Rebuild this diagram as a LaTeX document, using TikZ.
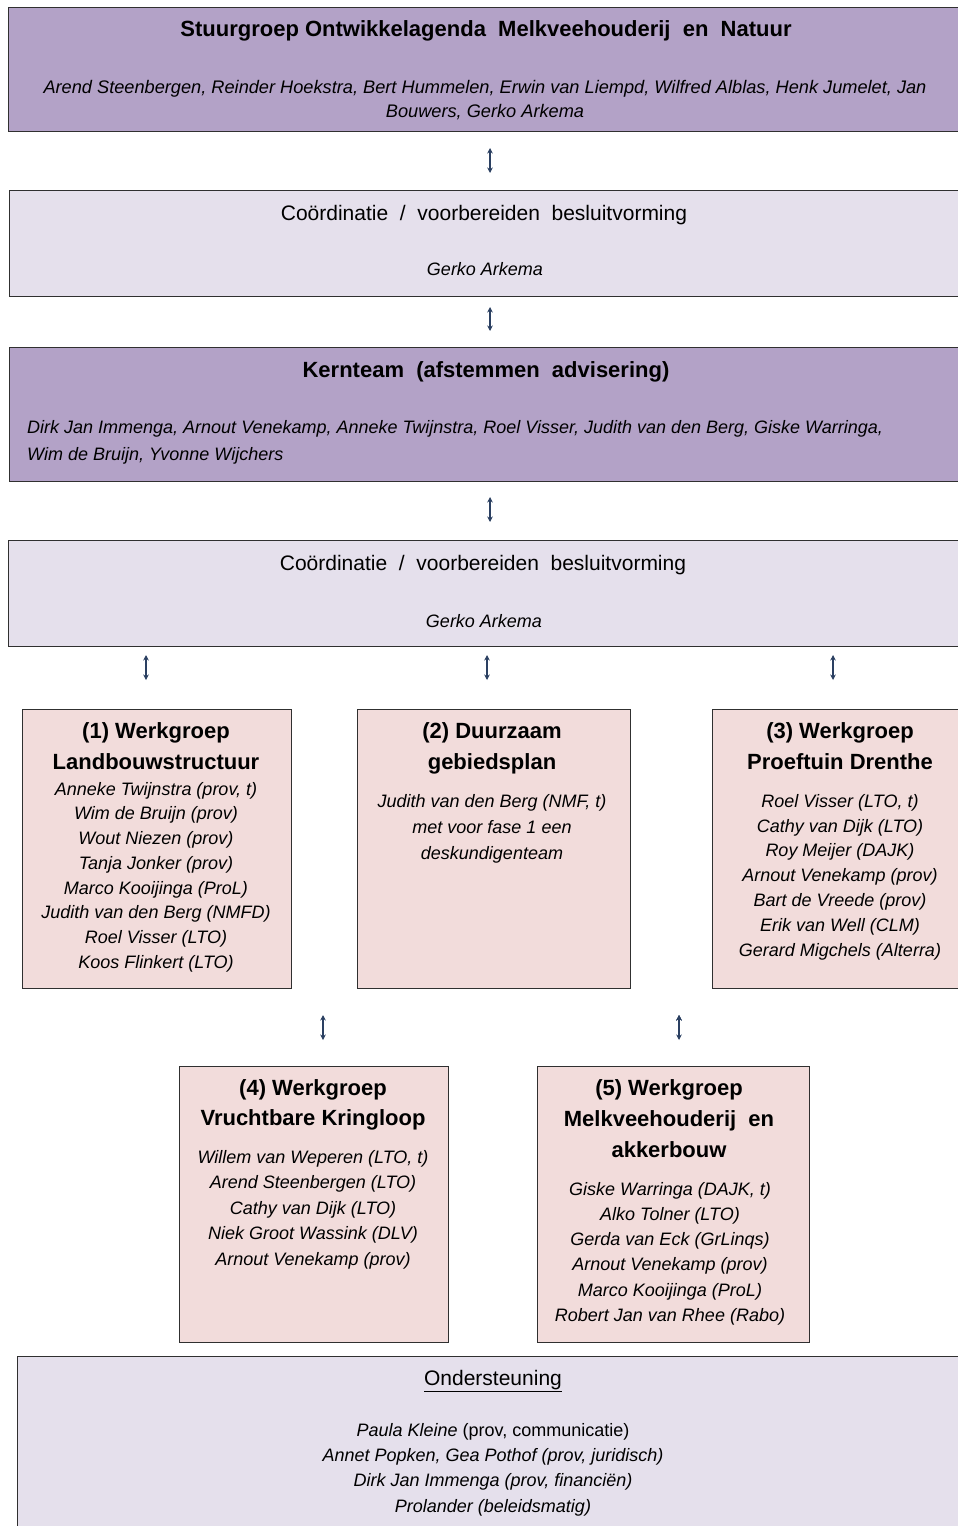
\documentclass[tikz,border=0pt]{standalone}
\usepackage{fontspec}
\setmainfont{Liberation Sans}
\usetikzlibrary{arrows.meta,positioning}

\definecolor{stuurpaars}{HTML}{B3A2C7}
\definecolor{coordlila}{HTML}{E5E0EC}
\definecolor{werkroze}{HTML}{F2DCDB}
\definecolor{randgrijs}{HTML}{303030}
\definecolor{pijlblauw}{HTML}{2B4062}

\tikzset{
  box/.style={draw=randgrijs, line width=1.4pt, anchor=north west, inner sep=0pt},
  paars/.style={box, fill=stuurpaars},
  lila/.style={box, fill=coordlila},
  roze/.style={box, fill=werkroze},
  kop/.style={font=\fontsize{22}{31}\selectfont\bfseries, align=center, inner sep=0pt, anchor=north},
  gewoon/.style={font=\fontsize{21}{25}\selectfont, align=center, inner sep=0pt, anchor=north},
  namen/.style={font=\fontsize{18}{24.7}\selectfont\itshape, align=center, inner sep=0pt, anchor=north},
  pijl/.style={{Stealth[length=5.5pt,width=5.5pt]}-{Stealth[length=5.5pt,width=5.5pt]}, line width=1.2pt, draw=pijlblauw}
}

\begin{document}
\begin{tikzpicture}[x=1pt, y=-1pt]
  \useasboundingbox (0,0) rectangle (958,1526);
  \clip (0,0) rectangle (958,1526);

  % stuurgroep en coordinatie
  \node[paars, minimum width=1000pt, minimum height=124pt] (stuur) at (8,7) {};
  \node[kop] (stuurkop) at (486,20) {Stuurgroep Ontwikkelagenda~~Melkveehouderij~~en~~Natuur};
  \node[namen, font=\fontsize{18.2}{24}\selectfont\itshape] (stuurnamen) at (485,80)
    {Arend Steenbergen, Reinder Hoekstra, Bert Hummelen, Erwin van Liempd, Wilfred Alblas, Henk Jumelet, Jan\\
     Bouwers, Gerko Arkema};

  \node[lila, minimum width=1000pt, minimum height=106pt] (coord1) at (9,190) {};
  \node[gewoon] (coord1kop) at (484,205) {Coördinatie~~/~~voorbereiden~~besluitvorming};
  \node[namen] (coord1naam) at (485,262) {Gerko Arkema};

  % kernteam
  \node[paars, minimum width=1000pt, minimum height=134pt] (kern) at (9,347) {};
  \node[kop] (kernkop) at (486,361) {Kernteam~~(afstemmen~~advisering)};
  \node[namen, align=left, anchor=north west, font=\fontsize{18}{27}\selectfont\itshape] (kernnamen) at (27,420)
    {Dirk Jan Immenga, Arnout Venekamp, Anneke Twijnstra, Roel Visser, Judith van den Berg, Giske Warringa,\\
     Wim de Bruijn, Yvonne Wijchers};

  \node[lila, minimum width=1000pt, minimum height=106pt] (coord2) at (8,540) {};
  \node[gewoon] (coord2kop) at (483,555) {Coördinatie~~/~~voorbereiden~~besluitvorming};
  \node[namen] (coord2naam) at (484,614) {Gerko Arkema};

  % werkgroepen 1-3
  \node[roze, minimum width=269pt, minimum height=279pt] (wg1) at (22,709) {};
  \node[kop] (wg1kop) at (156,722) {(1) Werkgroep\\Landbouwstructuur};
  \node[namen] (wg1namen) at (156,782)
    {Anneke Twijnstra (prov, t)\\Wim de Bruijn (prov)\\Wout Niezen (prov)\\Tanja Jonker (prov)\\
     Marco Kooijinga (ProL)\\Judith van den Berg (NMFD)\\Roel Visser (LTO)\\Koos Flinkert (LTO)};

  \node[roze, minimum width=273pt, minimum height=279pt] (wg2) at (357,709) {};
  \node[kop] (wg2kop) at (492,722) {(2) Duurzaam\\gebiedsplan};
  \node[namen, font=\fontsize{18}{26}\selectfont\itshape] (wg2namen) at (492,794)
    {Judith van den Berg (NMF, t)\\met voor fase 1 een\\deskundigenteam};

  \node[roze, minimum width=300pt, minimum height=279pt] (wg3) at (712,709) {};
  \node[kop] (wg3kop) at (840,722) {(3) Werkgroep\\Proeftuin Drenthe};
  \node[namen, font=\fontsize{18}{24.8}\selectfont\itshape] (wg3namen) at (840,794)
    {Roel Visser (LTO, t)\\Cathy van Dijk (LTO)\\Roy Meijer (DAJK)\\Arnout Venekamp (prov)\\
     Bart de Vreede (prov)\\Erik van Well (CLM)\\Gerard Migchels (Alterra)};

  % werkgroepen 4-5
  \node[roze, minimum width=269pt, minimum height=276pt] (wg4) at (179,1066) {};
  \node[kop, font=\fontsize{22}{30}\selectfont\bfseries] (wg4kop) at (313,1079) {(4) Werkgroep\\Vruchtbare Kringloop};
  \node[namen, font=\fontsize{18}{25.5}\selectfont\itshape] (wg4namen) at (313,1150)
    {Willem van Weperen (LTO, t)\\Arend Steenbergen (LTO)\\Cathy van Dijk (LTO)\\
     Niek Groot Wassink (DLV)\\Arnout Venekamp (prov)};

  \node[roze, minimum width=272pt, minimum height=276pt] (wg5) at (537,1066) {};
  \node[kop] (wg5kop) at (669,1079) {(5) Werkgroep\\Melkveehouderij~~en\\akkerbouw};
  \node[namen, font=\fontsize{18}{25.2}\selectfont\itshape] (wg5namen) at (670,1182)
    {Giske Warringa (DAJK, t)\\Alko Tolner (LTO)\\Gerda van Eck (GrLinqs)\\Arnout Venekamp (prov)\\
     Marco Kooijinga (ProL)\\Robert Jan van Rhee (Rabo)};

  % ondersteuning
  \node[lila, minimum width=1000pt, minimum height=250pt] (onder) at (17,1356) {};
  \node[gewoon] (onderkop) at (493,1370) {\underline{Ondersteuning}};
  \node[namen, font=\fontsize{18}{25.3}\selectfont\itshape] (ondernamen) at (493,1423)
    {Paula Kleine \upshape(prov, communicatie)\\Annet Popken, Gea Pothof (prov, juridisch)\\
     Dirk Jan Immenga (prov, financiën)\\Prolander (beleidsmatig)};

  % pijlen
  \coordinate (p1a) at (490,148);  \coordinate (p1b) at (490,173);
  \coordinate (p2a) at (490,307);  \coordinate (p2b) at (490,331);
  \coordinate (p3a) at (490,497);  \coordinate (p3b) at (490,522);
  \coordinate (p4a) at (146,655);  \coordinate (p4b) at (146,680);
  \coordinate (p5a) at (487,655);  \coordinate (p5b) at (487,680);
  \coordinate (p6a) at (833,655);  \coordinate (p6b) at (833,680);
  \coordinate (p7a) at (323,1015); \coordinate (p7b) at (323,1040);
  \coordinate (p8a) at (679,1015); \coordinate (p8b) at (679,1040);

  \path[pijl]
  (p1a) edge (p1b)
  (p2a) edge (p2b)
  (p3a) edge (p3b)
  (p4a) edge (p4b)
  (p5a) edge (p5b)
  (p6a) edge (p6b)
  (p7a) edge (p7b)
  (p8a) edge (p8b);
\end{tikzpicture}
\end{document}
